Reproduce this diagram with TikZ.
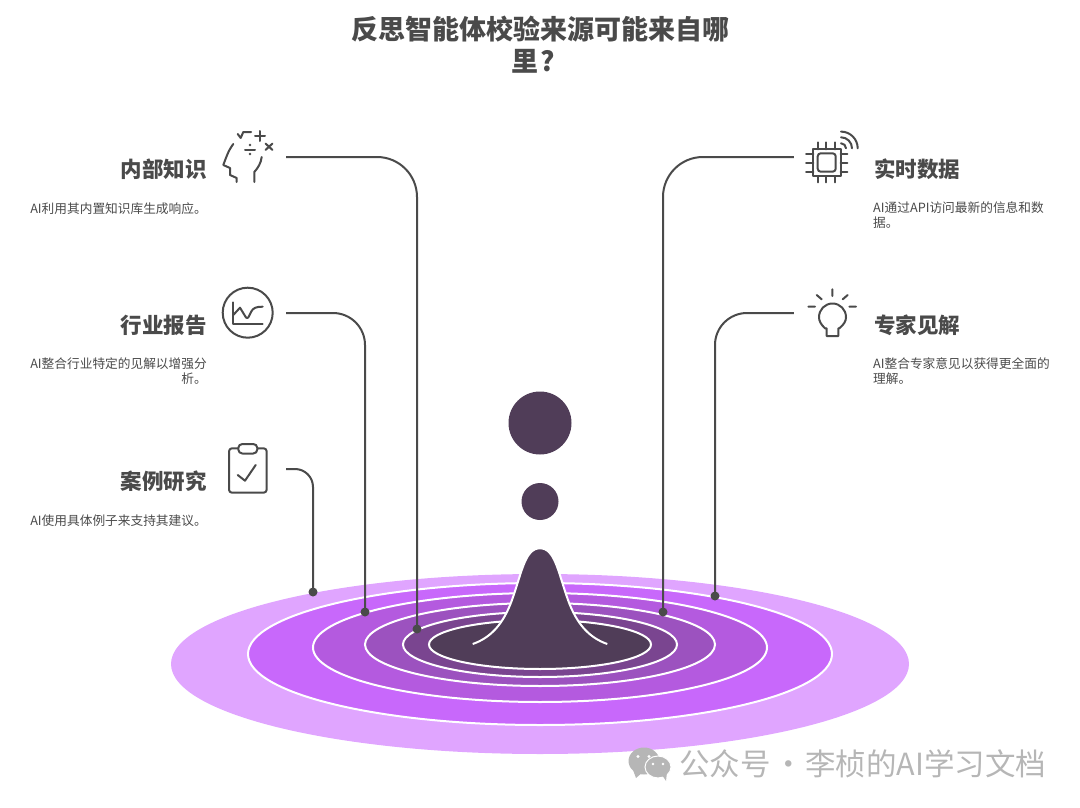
\documentclass[tikz,border=0pt]{standalone}
\usepackage{fontspec}
\setmainfont{Noto Sans CJK SC}
\definecolor{ink}{HTML}{4A4A4A}
\definecolor{drop}{HTML}{503D58}
\definecolor{wm}{HTML}{B6B6B6}
\definecolor{ringa}{HTML}{E0A5FF}
\definecolor{ringb}{HTML}{C868FB}
\definecolor{ringc}{HTML}{B45ADF}
\definecolor{ringd}{HTML}{9C52BF}
\definecolor{ringe}{HTML}{7A4590}
\tikzset{
 titletext/.style={text=ink,inner sep=0,font=\fontsize{27}{32}\bfseries\selectfont,anchor=base},
 headtext/.style={text=ink,inner sep=0,font=\fontsize{21.5}{26}\bfseries\selectfont},
 desctext/.style={text=ink,inner sep=0,font=\fontsize{12.7}{15}\selectfont},
 wmtext/.style={text=wm,inner sep=0,anchor=base west,font=\fontsize{30.5}{34}\selectfont},
 icon/.style={draw=ink,line width=2pt,line cap=round,line join=round},
 iconbox/.style={minimum width=76pt,minimum height=50pt,inner sep=0},
 wire/.style={draw=ink,line width=2pt},
 pin/.style={circle,fill=ink,minimum size=9pt,inner sep=0},
 ring/.style={draw=white,line width=2pt},
}
\begin{document}
\begin{tikzpicture}[x=1pt,y=-1pt]
\useasboundingbox (0,0) rectangle (1080,808);
% rings
\fill[ringa] (540,664) ellipse [x radius=369,y radius=90];
\path[ring,fill=ringb] (540,654) ellipse [x radius=292,y radius=71];
\path[ring,fill=ringc] (540,647.5) ellipse [x radius=227,y radius=54.5];
\path[ring,fill=ringd] (540,644.5) ellipse [x radius=175,y radius=41.5];
\path[ring,fill=ringe] (540,644.5) ellipse [x radius=137,y radius=32.5];
\path[ring,fill=drop] (540,644.5) ellipse [x radius=111,y radius=24.5];
% peak
\fill[drop] (472.7,644) .. controls (490,638) and (503,625) .. (512,600)
  .. controls (522,572) and (525,548.3) .. (540,548.3)
  .. controls (555,548.3) and (558,572) .. (568,600)
  .. controls (577,625) and (590,638) .. (607.3,644) -- cycle;
\draw[white,line width=2pt] (472.7,644) .. controls (490,638) and (503,625) .. (512,600)
  .. controls (522,572) and (525,548.3) .. (540,548.3)
  .. controls (555,548.3) and (558,572) .. (568,600)
  .. controls (577,625) and (590,638) .. (607.3,644);
\fill[drop] (540,423) circle [radius=31.5];
\fill[drop] (540,501.5) circle [radius=18.5];
% title
\node[titletext] (t1) at (540,40) {反思智能体校验来源可能来自哪};
\node[titletext,anchor=base west] (t2) at (511,72) {里\kern2pt ?};
% icon holders and end pins
\node[iconbox] (iconA) at (248,157) {};
\node[iconbox] (iconB) at (248,313) {};
\node[iconbox] (iconC) at (248,469) {};
\node[iconbox] (iconD) at (832,157) {};
\node[iconbox] (iconE) at (832,313) {};
\node[pin] (pinA) at (417,629) {};
\node[pin] (pinB) at (365,612) {};
\node[pin] (pinC) at (313,592) {};
\node[pin] (pinD) at (663,612) {};
\node[pin] (pinE) at (715,596) {};
% connectors
\draw[wire,rounded corners=40pt] (iconA.east) -| (pinA.center);
\draw[wire,rounded corners=32pt] (iconB.east) -| (pinB.center);
\draw[wire,rounded corners=18pt] (iconC.east) -| (pinC.center);
\draw[wire,rounded corners=40pt] (iconD.west) -| (pinD.center);
\draw[wire,rounded corners=32pt] (iconE.west) -| (pinE.center);
% left texts
\node[headtext,anchor=base east] (h1) at (207,177.5) {内部知识};
\node[desctext,anchor=base east] (d1) at (207,213.5) {AI利用其内置知识库生成响应。};
\node[headtext,anchor=base east] (h2) at (207,333.5) {行业报告};
\node[desctext,anchor=base east] (d2a) at (207,368) {AI整合行业特定的见解以增强分};
\node[desctext,anchor=base east] (d2b) at (207,383.5) {析。};
\node[headtext,anchor=base east] (h3) at (207,489.5) {案例研究};
\node[desctext,anchor=base east] (d3) at (207,525) {AI使用具体例子来支持其建议。};
% right texts
\node[headtext,anchor=base west] (h4) at (874,177.5) {实时数据};
\node[desctext,anchor=base west] (d4a) at (873,212.5) {AI通过API访问最新的信息和数};
\node[desctext,anchor=base west] (d4b) at (873,227) {据。};
\node[headtext,anchor=base west] (h5) at (874,333.5) {专家见解};
\node[desctext,anchor=base west] (d5a) at (873,368) {AI整合专家意见以获得更全面的};
\node[desctext,anchor=base west] (d5b) at (873,383.5) {理解。};
% head icon
\draw[icon] (233.3,144) .. controls (228,151) and (226,158) .. (223.3,165) -- (230,168) -- (230,175) -- (236.7,178) -- (236.7,182);
\draw[icon] (261.7,157) .. controls (261,163) and (258,168) .. (254.3,172) -- (254.3,182);
\draw[icon] (237.7,134) -- (240.7,138) -- (243.3,132) -- (251,132);
\draw[icon] (255,136) -- (265,136) (260,131) -- (260,141);
\draw[icon] (265.5,143.5) -- (272.5,150) (272.5,143.5) -- (265.5,150);
\draw[icon] (245,149.5) -- (255,149.5);
\fill[ink] (250,145) circle [radius=1.3] (250,154) circle [radius=1.3];
% chart icon
\draw[icon] (247.7,312.7) circle [radius=25];
\draw[icon] (233.3,302.3) -- (233.3,324.3) -- (262.7,324.3);
\draw[icon] (233.3,315) -- (240,307.7) -- (246,317.5) .. controls (248,319.5) and (249,316) .. (251,312) .. controls (253,307.5) and (257,306.7) .. (262.7,306.7);
% clipboard icon
\draw[icon,rounded corners=3pt] (229,448.3) rectangle (266.7,492.7);
\draw[icon,fill=white,rounded corners=4pt] (238.3,444) rectangle (257.3,453.5);
\draw[icon] (237.7,475) -- (245,480.7) -- (255.7,465);
% chip icon
\draw[icon] (813.3,149.3) rectangle (840.7,176);
\draw[icon,rounded corners=3pt] (817.7,153.3) rectangle (835.7,171.7);
\foreach \p in {817.7,826.2,835}{
 \draw[icon] (\p,142.3) -- (\p,149.3) (\p,176) -- (\p,182.3);}
\foreach \p in {153.5,162.5,171.7}{
 \draw[icon] (806,\p) -- (813.3,\p) (840.7,\p) -- (847.3,\p);}
\draw[icon] (841,131.6) arc [start angle=-90,end angle=0,radius=16.7];
\draw[icon] (841,137.3) arc [start angle=-90,end angle=0,radius=11];
\draw[icon] (841,143.3) arc [start angle=-90,end angle=0,radius=5];
% bulb icon
\draw[icon] (825,328.3) -- (826.7,328.3) -- (826.7,336) -- (838.3,336) -- (838.3,328.3) -- (839.3,328.3)
  .. controls (844,324.5) and (846,321) .. (846,317.3)
  .. controls (846,309.5) and (840,303.5) .. (832.5,303.5)
  .. controls (825,303.5) and (819,309.5) .. (819,317.3)
  .. controls (819,321) and (821,324.5) .. (825,328.3) -- cycle;
\draw[icon] (832.3,289.3) -- (832.3,296) (816.7,295) -- (821.7,299.3) (847.7,295) -- (842.7,299.3) (808.3,306.7) -- (815,306.7) (849.3,306.7) -- (856,306.7);
% watermark
\fill[wm] (644,761) ellipse [x radius=15.5,y radius=13.5];
\fill[wm] (633,770) -- (636,778) -- (643,772) -- cycle;
\fill[wm,draw=white,line width=1pt] (658,767) ellipse [x radius=13,y radius=11];
\fill[wm] (662,775) -- (666,781) -- (667,772) -- cycle;
\fill[white] (638,756.5) circle [radius=1.6] (649,756.5) circle [radius=1.6] (653,764) circle [radius=1.4] (663,764) circle [radius=1.4];
\node[wmtext] (w1) at (679,775.5) {公众号};
\node[wmtext] (w2) at (773,775.5) {·};
\node[wmtext] (w3) at (805,775.5) {李桢的AI学习文档};
\end{tikzpicture}
\end{document}
